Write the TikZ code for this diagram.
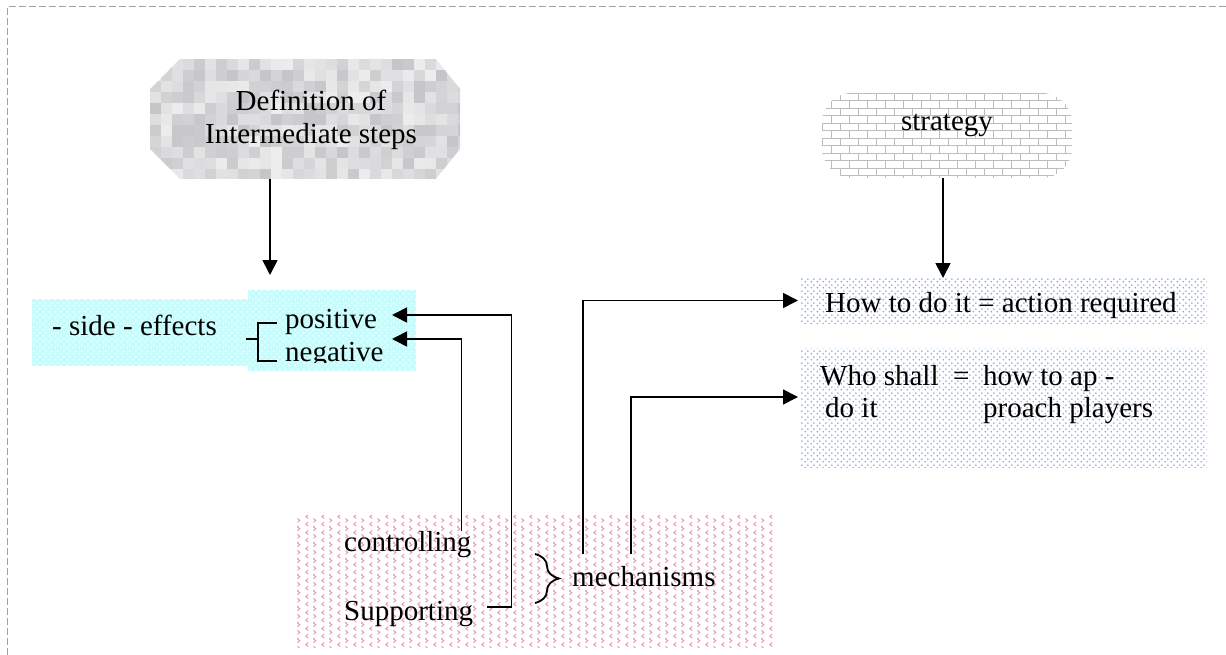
\documentclass[tikz,border=0pt]{standalone}
\usepackage{fontspec}
\setmainfont{Liberation Serif}
\usetikzlibrary{patterns.meta,decorations.pathreplacing,arrows.meta}

\definecolor{cyanbg}{RGB}{200,252,252}
\definecolor{dotblue}{RGB}{110,175,255}
\definecolor{chevpink}{RGB}{250,140,190}
\definecolor{mosaicdark}{RGB}{60,60,72}
\definecolor{framegray}{RGB}{160,160,160}

% staggered dots, 6pt grid
\tikzdeclarepattern{
  name=softdots, type=uncolored,
  bottom left={(0pt,0pt)}, top right={(6pt,6pt)}, tile size={(6pt,6pt)},
  code={
    \fill (1.5pt,1.5pt) circle[radius=1.05pt];
    \fill (4.5pt,4.5pt) circle[radius=1.05pt];
  }
}
% rows of small chevrons
\tikzdeclarepattern{
  name=chevrons, type=uncolored,
  bottom left={(0pt,0pt)}, top right={(16pt,16pt)}, tile size={(16pt,16pt)},
  line width=0.85pt,
  code={
    \draw (4.5pt,1pt) -- (2pt,3pt) -- (4.5pt,5pt);
    \draw (10pt,5pt) -- (12.5pt,7pt) -- (10pt,9pt);
    \draw (4.5pt,9pt) -- (2pt,11pt) -- (4.5pt,13pt);
    \draw (10pt,13pt) -- (12.5pt,15pt) -- (10pt,17pt);
    \draw (10pt,-3pt) -- (12.5pt,-1pt) -- (10pt,1pt);
  }
}

\begin{document}
\begin{tikzpicture}[x=1pt,y=-1pt,
  txt/.style={font=\fontsize{29}{33}\selectfont, inner sep=0pt},
  boxarea/.style={inner sep=0pt, outer sep=0pt, draw=none},
  conn/.style={line width=1.6pt, black},
  arr/.style={conn, -{Triangle[length=15pt,width=15pt]}},
  brick/.style={draw=black!26, line width=0.9pt},
]
\useasboundingbox (0,0) rectangle (1226,655);

% frame
\draw[framegray, line width=1pt, dash pattern=on 7pt off 3pt] (1226,7) -- (7,7) -- (7,655);

% ---------- box areas ----------
\node[boxarea, minimum width=310pt, minimum height=120pt] (defbox) at (305,119) {};
\node[boxarea, minimum width=250pt, minimum height=85pt] (stratbox) at (947,135.5) {};
\node[boxarea, minimum width=218pt, minimum height=67pt,
      preaction={fill=cyanbg}, pattern={softdots}, pattern color=white] (sidebox) at (141,332.5) {};
\node[boxarea, minimum width=168pt, minimum height=81pt,
      preaction={fill=cyanbg}, pattern={softdots}, pattern color=white] (pnbox) at (332,330.5) {};
\node[boxarea, minimum width=407pt, minimum height=45pt,
      preaction={fill=white}, pattern={softdots}, pattern color=dotblue] (howbox) at (1003.5,300.5) {};
\node[boxarea, minimum width=407pt, minimum height=119pt,
      preaction={fill=white}, pattern={softdots}, pattern color=dotblue] (whobox) at (1003.5,407.5) {};
\node[boxarea, minimum width=478pt, minimum height=132pt,
      preaction={fill=white}, pattern={chevrons}, pattern color=chevpink] (mechbox) at (534,581) {};

% mosaic octagon
\begin{scope}
  \clip ([xshift=30pt]defbox.north west) -- ([xshift=-24pt]defbox.north east)
        -- ([yshift=-30pt]defbox.north east) -- ([yshift=30pt]defbox.south east)
        -- ([xshift=-24pt]defbox.south east) -- ([xshift=30pt]defbox.south west)
        -- ([yshift=30pt]defbox.south west) -- ([yshift=-30pt]defbox.north west) -- cycle;
  \pgfmathsetseed{11}
  \foreach \i in {0,...,28}{
    \foreach \j in {0,...,10}{
      \pgfmathtruncatemacro\g{71+21*rnd}
      \fill[white!\g!mosaicdark] (150+\i*11,59+\j*11) rectangle ++(11.4,11.4);
    }
  }
\end{scope}

% brick rounded box
\begin{scope}
  \clip[rounded corners=30pt] (stratbox.north west) rectangle (stratbox.south east);
  \fill[white] (stratbox.north west) rectangle (stratbox.south east);
  \foreach \r in {0,...,11}{
    \pgfmathsetmacro\yy{93+\r*7.5}
    \pgfmathsetmacro\off{mod(\r,2)*9}
    \draw[brick] (822,\yy) -- (1072,\yy);
    \foreach \k in {0,...,14}{
      \draw[brick] (822+\off+\k*18,\yy) -- ++(0,7.5);
    }
  }
\end{scope}

% ---------- texts ----------
\node[txt, anchor=base] (deftxta) at (311,110.5) {Definition of};
\node[txt, anchor=base] (deftxtb) at (311,143.5) {Intermediate steps};
\node[txt, anchor=base] (strattxt) at (947,131) {strategy};

\node[txt, anchor=base] (sidetxt) at (134.5,335) {- side - effects};
\node[txt, anchor=base west] (pos) at (285,328) {positive};
\begin{scope}
  \clip (0,0) rectangle (1226,362.5);
  \node[txt, anchor=base west] (neg) at (285,361) {negative};
\end{scope}

\node[txt, anchor=base west] (howtxt) at (825,312) {How to do it = action required};
\node[txt, anchor=base west] (whoa) at (820,385) {Who shall};
\node[txt, anchor=base west] (whoeq) at (953,385) {=};
\node[txt, anchor=base west] (whob) at (983,385) {how to ap -};
\node[txt, anchor=base west] (whoc) at (825,417) {do it};
\node[txt, anchor=base west] (whod) at (983,417) {proach players};

\node[txt, anchor=base west] (ctrl) at (344,551) {controlling};
\node[txt, anchor=base west] (supp) at (344,620.5) {Supporting};
\node[txt, anchor=base west] (mech) at (572,586) {mechanisms};

% brackets
\draw[conn, line width=1.4pt] (246,339) -- (258,339);
\draw[conn, line width=1.4pt] (277,323) -- (258,323) -- (258,361) -- (277,361);
\draw[conn, line width=1.8pt, decorate, decoration={brace, amplitude=24pt}]
  (535,554) -- (535,603);

% ---------- connectors ----------
\coordinate (deftip) at (270,275);
\coordinate (posin) at (392,315);
\coordinate (negin) at (392,339);

\draw[arr] (defbox.south -| deftip) -- (deftip);
\draw[arr] ([xshift=-4pt]stratbox.south) -- ([xshift=-4pt]stratbox.south |- howbox.north);

\draw[arr] ([xshift=14pt,yshift=13.5pt]supp.base east) -- ++(24,0) |- (posin);
\draw[arr] ([xshift=-10pt]ctrl.north east) |- (negin);

\draw[arr] ([xshift=11pt,yshift=12pt]mech.north west) |- ([xshift=-2pt]howbox.west);
\draw[arr] ([xshift=59pt,yshift=12pt]mech.north west) |- ([xshift=-2pt,yshift=10.5pt]whobox.west);
\end{tikzpicture}
\end{document}
